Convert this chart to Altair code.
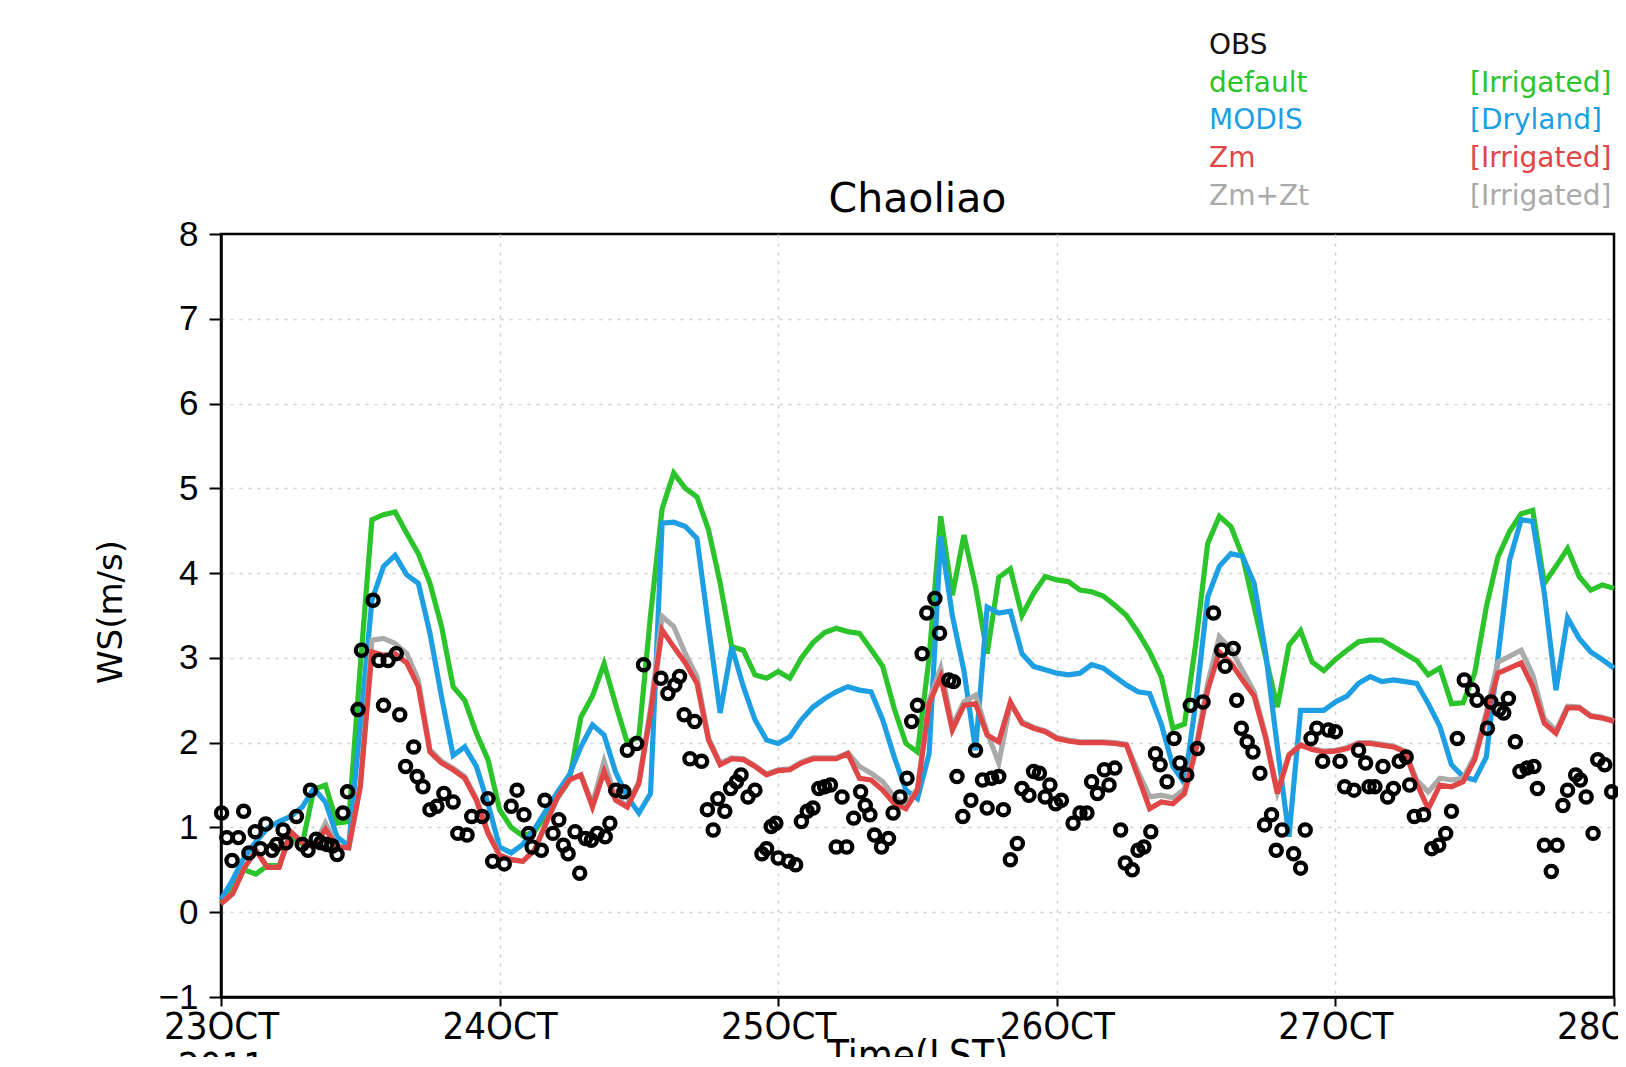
import altair as alt
import pandas as pd

# ---------------- data (hourly model output, hour 0 = 23 Oct 00 LST) ----------------
hours = list(range(121))

default_ws = [0.10, 0.30, 0.50, 0.45, 0.55, 0.55, 0.90, 0.80, 1.45, 1.50, 1.05, 1.07, 2.90,
              4.63, 4.69, 4.72, 4.47, 4.23, 3.88, 3.37, 2.66, 2.50, 2.11, 1.80, 1.21,
              1.00, 0.90, 0.95, 1.15, 1.35, 1.55, 2.30, 2.55, 2.93, 2.45, 2.00, 2.07,
              3.50, 4.76, 5.18, 5.00, 4.90, 4.51, 3.88, 3.13, 3.09, 2.80, 2.76, 2.84,
              2.76, 3.00, 3.18, 3.30, 3.35, 3.31, 3.29, 3.10, 2.90, 2.40, 1.99, 1.89,
              3.00, 4.67, 3.74, 4.45, 3.84, 3.05, 3.95, 4.05, 3.50, 3.76, 3.96, 3.92,
              3.90, 3.80, 3.78, 3.73, 3.62, 3.50, 3.30, 3.07, 2.78, 2.17, 2.22, 3.20,
              4.35, 4.67, 4.55, 4.20, 3.60, 3.00, 2.42, 3.15, 3.32, 2.95, 2.85, 2.98,
              3.09, 3.19, 3.21, 3.21, 3.13, 3.05, 2.97, 2.80, 2.88, 2.46, 2.47, 2.82,
              3.60, 4.19, 4.49, 4.70, 4.74, 3.88, 4.08, 4.29, 3.96, 3.80, 3.86, 3.82]

modis_ws = [0.15, 0.38, 0.65, 0.83, 0.99, 1.07, 1.13, 1.24, 1.46, 1.30, 0.89, 0.78, 2.20,
            3.68, 4.08, 4.21, 3.98, 3.88, 3.29, 2.54, 1.85, 1.95, 1.72, 1.28, 0.77,
            0.70, 0.80, 0.98, 1.20, 1.42, 1.62, 1.95, 2.21, 2.09, 1.65, 1.36, 1.17,
            1.40, 4.59, 4.60, 4.55, 4.41, 3.37, 2.35, 3.13, 2.66, 2.27, 2.03, 1.99,
            2.07, 2.27, 2.42, 2.52, 2.60, 2.66, 2.62, 2.60, 2.27, 1.83, 1.44, 1.34,
            1.87, 4.43, 3.50, 2.85, 1.91, 3.60, 3.53, 3.55, 3.05, 2.90, 2.86, 2.82,
            2.80, 2.82, 2.92, 2.88, 2.78, 2.68, 2.60, 2.58, 2.22, 1.72, 1.52, 2.50,
            3.72, 4.08, 4.23, 4.20, 3.88, 3.05, 1.95, 0.89, 2.38, 2.38, 2.38, 2.48,
            2.55, 2.70, 2.78, 2.72, 2.74, 2.72, 2.70, 2.46, 2.19, 1.74, 1.60, 1.56,
            1.83, 3.00, 4.15, 4.63, 4.61, 3.76, 2.62, 3.47, 3.23, 3.07, 2.98, 2.88]

zm_ws = [0.10, 0.22, 0.52, 0.73, 0.53, 0.53, 0.95, 0.82, 0.77, 0.98, 0.77, 0.76, 1.48,
         3.07, 3.03, 3.05, 2.94, 2.66, 1.89, 1.76, 1.68, 1.58, 1.32, 0.93, 0.67,
         0.62, 0.60, 0.73, 1.05, 1.36, 1.56, 1.62, 1.24, 1.66, 1.32, 1.24, 1.52,
         2.35, 3.33, 3.13, 2.94, 2.70, 2.03, 1.74, 1.81, 1.80, 1.72, 1.62, 1.67,
         1.68, 1.76, 1.81, 1.81, 1.81, 1.87, 1.58, 1.56, 1.44, 1.28, 1.22, 1.44,
         2.46, 2.78, 2.15, 2.44, 2.46, 2.09, 2.01, 2.48, 2.23, 2.17, 2.13, 2.05,
         2.02, 2.00, 2.00, 2.00, 1.99, 1.97, 1.60, 1.22, 1.30, 1.28, 1.40, 1.92,
         2.62, 3.07, 2.94, 2.74, 2.55, 2.05, 1.40, 1.85, 1.97, 1.92, 1.89, 1.90,
         1.93, 1.99, 1.99, 1.97, 1.95, 1.89, 1.52, 1.22, 1.50, 1.48, 1.54, 1.80,
         2.31, 2.82, 2.88, 2.94, 2.66, 2.23, 2.11, 2.41, 2.41, 2.31, 2.29, 2.25]

zmzt_ws = [0.10, 0.22, 0.52, 0.73, 0.53, 0.53, 0.95, 0.82, 0.77, 1.05, 0.77, 0.76, 1.50,
           3.21, 3.23, 3.17, 3.05, 2.74, 1.92, 1.78, 1.70, 1.60, 1.34, 0.95, 0.68,
           0.62, 0.60, 0.73, 1.05, 1.36, 1.56, 1.62, 1.28, 1.78, 1.34, 1.26, 1.54,
           2.40, 3.49, 3.37, 3.05, 2.78, 2.05, 1.76, 1.82, 1.81, 1.73, 1.63, 1.68,
           1.69, 1.77, 1.82, 1.82, 1.82, 1.88, 1.72, 1.64, 1.54, 1.36, 1.26, 1.46,
           2.50, 2.88, 2.20, 2.48, 2.56, 2.12, 1.76, 2.46, 2.25, 2.18, 2.14, 2.06,
           2.03, 2.01, 2.01, 2.01, 2.00, 1.98, 1.66, 1.36, 1.38, 1.35, 1.45, 1.96,
           2.70, 3.25, 3.10, 2.85, 2.60, 2.08, 1.42, 1.86, 1.98, 1.93, 1.90, 1.91,
           1.94, 2.00, 2.00, 1.98, 1.96, 1.90, 1.56, 1.42, 1.58, 1.56, 1.58, 1.84,
           2.36, 2.95, 3.02, 3.09, 2.80, 2.28, 2.14, 2.43, 2.42, 2.32, 2.30, 2.26]

obs_hour = [0.05, 0.5, 0.95, 1.5, 1.95, 2.4, 2.95, 3.4, 3.85, 4.4, 4.8, 5.35, 5.6, 6.5, 7.0,
            7.5, 7.7, 8.2, 8.6, 9.1, 9.6, 10.0, 10.5, 10.9, 11.8, 12.1, 13.1, 13.6, 14.0,
            14.4, 15.1, 15.4, 15.9, 16.6, 16.9, 17.4, 18.0, 18.6, 19.2, 20.0, 20.4, 21.2,
            21.6, 22.5, 23.0, 23.4, 24.4,
            25.0, 25.5, 26.1, 26.5, 26.8, 27.6, 27.9, 28.6, 29.1, 29.5, 29.9, 30.5, 30.9,
            31.4, 31.9, 32.4, 33.1, 33.5, 34.0, 34.7, 35.0, 35.8, 36.4, 37.9, 38.5, 39.1,
            39.5, 39.9, 40.4, 40.8, 41.4, 41.9, 42.4, 42.8, 43.4, 43.9, 44.4, 44.8, 45.4,
            46.0, 46.6, 47.0, 47.4, 47.8, 48.0,
            48.9, 49.5, 50.0, 50.5, 51.0, 51.5, 52.0, 52.5, 53.0, 53.5, 53.9, 54.5, 55.1,
            55.5, 55.9, 56.3, 56.9, 57.5, 57.9, 58.5, 59.1, 59.5, 60.0, 60.4, 60.8, 61.5,
            61.9, 62.7, 63.1, 63.4, 63.9, 64.6, 65.0, 65.6, 66.0, 66.4, 67.0, 67.4, 68.0,
            68.6, 69.0, 69.6, 70.0, 70.5, 71.0, 71.4, 71.9, 72.4,
            73.4, 74.0, 74.6, 75.0, 75.5, 76.1, 76.5, 77.0, 77.5, 77.9, 78.5, 79.0, 79.5,
            80.1, 80.5, 80.9, 81.5, 82.1, 82.6, 83.2, 83.5, 84.1, 84.6, 85.5, 86.2, 86.5,
            87.2, 87.5, 87.9, 88.4, 88.9, 89.5, 89.9, 90.5, 90.9, 91.4, 92.4, 93.0, 93.4,
            93.9, 94.4, 94.9, 95.4, 96.0,
            96.4, 96.8, 97.6, 98.0, 98.6, 98.9, 99.4, 100.1, 100.5, 101.0, 101.5, 102.1,
            102.4, 102.8, 103.6, 104.3, 104.9, 105.5, 106.0, 106.5, 107.1, 107.8, 108.2,
            109.1, 109.4, 110.1, 110.5, 110.9, 111.5, 111.9, 112.5, 113.1, 113.4, 114.0,
            114.6, 115.1, 115.6, 116.0, 116.7, 117.1, 117.6, 118.2, 118.6, 119.2, 119.8]

obs_ws = [1.17, 0.88, 0.61, 0.88, 1.19, 0.70, 0.95, 0.75, 1.04, 0.73, 0.80, 0.97, 0.82, 1.13, 0.80,
          0.73, 1.44, 0.86, 0.82, 0.80, 0.78, 0.68, 1.17, 1.42, 2.39, 3.09, 3.68, 2.97, 2.44,
          2.97, 3.05, 2.33, 1.72, 1.95, 1.60, 1.48, 1.21, 1.25, 1.40, 1.30, 0.93, 0.91,
          1.13, 1.13, 1.34, 0.60, 0.57,
          1.25, 1.44, 1.15, 0.93, 0.77, 0.73, 1.32, 0.93, 1.09, 0.79, 0.69, 0.95, 0.46,
          0.87, 0.85, 0.93, 0.89, 1.05, 1.44, 1.42, 1.91, 1.99, 2.92, 2.76, 2.58, 2.68,
          2.78, 2.33, 1.81, 2.25, 1.78, 1.21, 0.97, 1.34, 1.19, 1.46, 1.54, 1.62, 1.36,
          1.44, 0.69, 0.75, 1.01, 1.05, 0.64,
          0.60, 0.56, 1.07, 1.19, 1.23, 1.46, 1.48, 1.50, 0.77, 1.36, 0.77, 1.11, 1.42,
          1.26, 1.15, 0.91, 0.77, 0.87, 1.17, 1.36, 1.58, 2.25, 2.44, 3.05, 3.53, 3.70,
          3.29, 2.74, 2.72, 1.60, 1.13, 1.32, 1.91, 1.56, 1.23, 1.58, 1.60, 1.21, 0.62,
          0.81, 1.46, 1.38, 1.66, 1.64, 1.36, 1.50, 1.28, 1.32,
          1.05, 1.17, 1.17, 1.54, 1.40, 1.68, 1.50, 1.70, 0.97, 0.58, 0.50, 0.73, 0.77,
          0.95, 1.87, 1.74, 1.54, 2.05, 1.76, 1.62, 2.44, 1.93, 2.48, 3.53, 3.09, 2.90,
          3.11, 2.50, 2.17, 2.01, 1.89, 1.64, 1.03, 1.15, 0.73, 0.97, 0.69, 0.52, 0.97,
          2.05, 2.17, 1.78, 2.15, 2.13,
          1.78, 1.48, 1.44, 1.91, 1.76, 1.48, 1.48, 1.72, 1.36, 1.46, 1.78, 1.83,
          1.50, 1.13, 1.15, 0.75, 0.79, 0.93, 1.19, 2.05, 2.74, 2.62, 2.50,
          2.17, 2.48, 2.39, 2.35, 2.52, 2.01, 1.66, 1.70, 1.72, 1.46, 0.79,
          0.48, 0.79, 1.26, 1.44, 1.62, 1.56, 1.36, 0.93, 1.80, 1.74, 1.42]

x_tick_hours = [0, 24, 48, 72, 96, 120]
x_tick_labels = [["23OCT", "2011"], "24OCT", "25OCT", "26OCT", "27OCT", "28OCT"]
y_ticks = [-1, 0, 1, 2, 3, 4, 5, 6, 7, 8]

legend_names = ["OBS", "default", "MODIS", "Zm", "Zm+Zt"]
legend_notes = ["", "[Irrigated]", "[Dryland]", "[Irrigated]", "[Irrigated]"]
legend_colors = ["#111111", "#2bc42b", "#1f9fe3", "#e04646", "#aaaaaa"]

chart_title = "Chaoliao"
y_title = "WS(m/s)"
x_title = "Time(LST)"

# ---------------- layout ----------------
W, H = 1393, 763
NARROW = "Liberation Sans Narrow, DejaVu Sans Condensed, Liberation Sans, sans-serif"
ROUND = "DejaVu Sans, sans-serif"

model = pd.DataFrame({"hour": hours, "default": default_ws, "MODIS": modis_ws,
                      "Zm": zm_ws, "ZmZt": zmzt_ws})
obs = pd.DataFrame({"hour": obs_hour, "ws": obs_ws})

parts = []
for h, lab in zip(x_tick_hours, x_tick_labels):
    if isinstance(lab, list):
        s = "[" + ",".join("'" + l + "'" for l in lab) + "]"
    else:
        s = "'" + lab + "'"
    parts.append(f"datum.value == {h} ? {s}")
label_expr = " : ".join(parts) + " : ''"

x_edge = f"datum.value == {x_tick_hours[0]} || datum.value == {x_tick_hours[-1]}"
y_edge = f"datum.value == {y_ticks[0]} || datum.value == {y_ticks[-1]}"

x_axis = alt.Axis(values=x_tick_hours, labelExpr=label_expr, title=None,
                  grid=True, gridColor="#d0d0d0", gridDash=[3, 6], gridWidth=1.5,
                  gridOpacity={"condition": {"test": x_edge, "value": 0}, "value": 1},
                  domainColor="black", domainWidth=2.5, tickColor="black", tickWidth=2,
                  tickSize=9, labelFont=NARROW, labelFontSize=38, labelColor="black",
                  labelPadding=2, labelFlush=False, labelOverlap=False, labelBound=False,
                  labelLineHeight=40)
y_axis = alt.Axis(values=y_ticks, title=None, format="d",
                  grid=True, gridColor="#d0d0d0", gridDash=[3, 6], gridWidth=1.5,
                  gridOpacity={"condition": {"test": y_edge, "value": 0}, "value": 1},
                  domainColor="black", domainWidth=2.5, tickColor="black", tickWidth=2,
                  tickSize=12, labelFont="Liberation Sans, sans-serif", labelFontSize=35,
                  labelColor="black", labelPadding=11, labelFlush=False, labelOverlap=False,
                  labelBound=False)

xs = alt.Scale(domain=[0, 120], nice=False, zero=False)
ys = alt.Scale(domain=[-1, 8], nice=False, zero=False)


def line_layer(field, color):
    return alt.Chart(model).mark_line(color=color, strokeWidth=5.2, strokeJoin="miter").encode(
        x=alt.X("hour:Q", scale=xs, axis=x_axis),
        y=alt.Y(f"{field}:Q", scale=ys, axis=y_axis),
    )


layers = [
    line_layer("default", legend_colors[1]),
    line_layer("MODIS", legend_colors[2]),
    line_layer("ZmZt", legend_colors[4]),
    line_layer("Zm", legend_colors[3]),
    alt.Chart(obs).mark_point(shape="circle", filled=False, color="black",
                              strokeWidth=4.3, size=125, opacity=1).encode(
        x=alt.X("hour:Q", scale=xs, axis=x_axis),
        y=alt.Y("ws:Q", scale=ys, axis=y_axis),
    ),
]

one = pd.DataFrame({"k": [0]})


def text_layer(txt, x, y, color="black", size=28, font=ROUND, align="left",
               baseline="middle", angle=0):
    kw = dict(text=txt, color=color, fontSize=size, font=font, align=align, baseline=baseline)
    if angle:
        kw["angle"] = angle
    return alt.Chart(one).mark_text(**kw).encode(x=alt.value(x), y=alt.value(y))


# title, axis titles
layers.append(text_layer(chart_title, W / 2, -22, size=41, align="center",
                         baseline="alphabetic"))
layers.append(text_layer(y_title, -109, 378, size=34, align="center", angle=270))
layers.append(text_layer(x_title, W / 2, 803, size=40, font=NARROW, align="center",
                         baseline="top"))

# legend (two columns of coloured text)
legend_y = [-188, -150, -113, -75, -37]
for name, note, col, yy in zip(legend_names, legend_notes, legend_colors, legend_y):
    layers.append(text_layer(name, 988, yy, color=col, size=28))
    if note:
        layers.append(text_layer(note, 1249, yy, color=col, size=28))

chart = alt.layer(*layers).properties(
    width=W, height=H,
    autosize=alt.AutoSizeParams(type="none"),
    padding={"left": 213, "top": 226, "right": 4, "bottom": 60},
    background="white",
).configure_view(stroke="black", strokeWidth=2.5)

chart.save("out.html", embed_options={"renderer": "svg", "actions": False})
